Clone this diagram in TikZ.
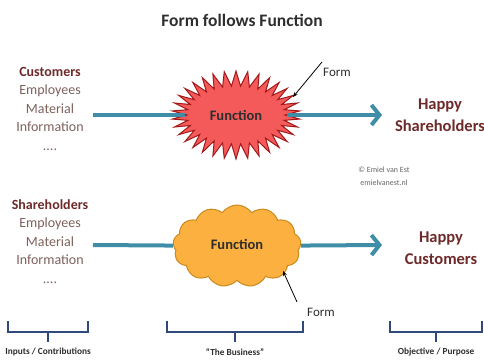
\documentclass[tikz,border=0pt]{standalone}
\usepackage{fontspec}
\setmainfont{Carlito}
\usetikzlibrary{shapes.symbols,arrows.meta}
\definecolor{darkred}{HTML}{6E2A2A}
\definecolor{graytxt}{HTML}{7D615C}
\definecolor{titlegray}{HTML}{2E2E2E}
\definecolor{tealc}{HTML}{3F8DA6}
\definecolor{burstfill}{HTML}{F55A5A}
\definecolor{burstline}{HTML}{A01A1A}
\definecolor{cloudfill}{HTML}{FBB03F}
\definecolor{cloudline}{HTML}{C98A1E}
\definecolor{navy}{HTML}{2F4A7A}
\tikzset{
  coltext/.style={align=center, text=graytxt, font=\fontsize{14}{18.5}\selectfont, inner sep=0pt},
  outtext/.style={align=center, text=darkred, font=\fontsize{16.5}{22}\selectfont\bfseries, inner sep=0pt},
  flow/.style={draw=tealc, line width=4pt},
  flowarrow/.style={draw=tealc, line width=4pt, -{Straight Barb[length=8pt,width=20pt,line width=4pt]}},
  formarrow/.style={draw=black, line width=0.8pt, -{Stealth[length=5pt,width=4pt]}},
  formtext/.style={font=\fontsize{13}{15}\selectfont, text=titlegray, inner sep=1pt},
  bracket/.style={draw=navy, line width=1.8pt},
  bracklabel/.style={font=\fontsize{9.3}{11}\selectfont\bfseries, text=titlegray, inner sep=0pt},
  fnlabel/.style={font=\fontsize{14.5}{17}\selectfont\bfseries, text=titlegray}
}
\begin{document}
\begin{tikzpicture}[x=1pt,y=-1pt]
\useasboundingbox (0,0) rectangle (484,361);
% title
\node[font=\fontsize{17.5}{21}\selectfont\bfseries, text=titlegray] (title) at (242,20) {Form follows Function};
% top row
\node[coltext, anchor=north] (in1) at (50,67) {{\bfseries\color{darkred}Customers}\\Employees\\Material\\Information\\....};
\node[starburst, starburst points=34, starburst point height=15pt, random starburst=0, minimum width=128pt, minimum height=88pt, fill=burstfill, draw=burstline, line width=1pt] (burst) at (236,115) {};
\node[fnlabel] (burstlabel) at (236,115) {Function};
\node[outtext] (out1) at (440,115) {Happy\\Shareholders};
\coordinate (a1) at (93,115);
\coordinate (a1e) at (382,115);
\draw[flow] (a1) -- (burst);
\draw[flowarrow] (burst) -- (a1e);
\node[formtext] (form1) at (337,72) {Form};
\coordinate (f1s) at (322,62);
\coordinate (f1e) at (293,97);
\draw[formarrow] (f1s) -- (f1e);
% copyright
\node[font=\fontsize{8}{13}\selectfont, text=black!60, align=center, inner sep=0pt] (copy) at (384,176) {© Emiel van Est\\emielvanest.nl};
% bottom row
\node[coltext, anchor=north] (in2) at (50,199) {{\bfseries\color{darkred}Shareholders}\\Employees\\Material\\Information\\....};
\node[cloud, cloud puffs=13, cloud puff arc=110, aspect=1.6, minimum width=128pt, minimum height=82pt, fill=cloudfill, draw=cloudline, line width=1pt] (cloud) at (237,246) {};
\node[fnlabel] (cloudlabel) at (237,244) {Function};
\node[outtext] (out2) at (441,248) {Happy\\Customers};
\coordinate (a2) at (93,245);
\coordinate (a2e) at (382,245);
\draw[flow] (a2) -- (cloud);
\draw[flowarrow] (cloud) -- (a2e);
\node[formtext] (form2) at (321,312) {Form};
\coordinate (f2s) at (297,302);
\coordinate (f2e) at (283,271);
\draw[formarrow] (f2s) -- (f2e);
% brackets
\draw[bracket] (8,321) -- (8,332) -- (88,332) -- (88,321);
\draw[bracket] (48,332) -- (48,342);
\draw[bracket] (167,321) -- (167,332) -- (303,332) -- (303,321);
\draw[bracket] (235,332) -- (235,342);
\draw[bracket] (390,321) -- (390,332) -- (482,332) -- (482,321);
\draw[bracket] (436,332) -- (436,342);
\node[bracklabel] (lab1) at (48,352) {Inputs / Contributions};
\node[bracklabel] (lab2) at (235,352) {“The Business”};
\node[bracklabel] (lab3) at (436,352) {Objective / Purpose};
\end{tikzpicture}
\end{document}
